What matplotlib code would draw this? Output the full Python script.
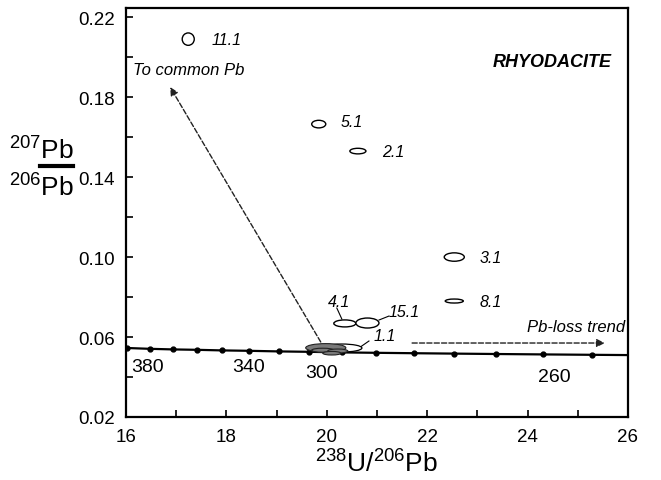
import numpy as np
import matplotlib
matplotlib.use('Agg')
import matplotlib.pyplot as plt
from matplotlib.patches import Ellipse
from matplotlib.lines import Line2D

plt.rcParams['font.family'] = ['Liberation Sans', 'DejaVu Sans']
plt.rcParams['mathtext.fontset'] = 'custom'
plt.rcParams['mathtext.rm'] = 'Liberation Sans'
plt.rcParams['mathtext.it'] = 'Liberation Sans:italic'

# Concordia curve (Tera-Wasserburg), age ticks in Ma
conc_age = [400, 390, 380, 370, 360, 350, 340, 330, 320, 310, 300, 290, 280, 270, 260, 250, 240]
conc_x = [15.62, 16.03, 16.47, 16.93, 17.41, 17.92, 18.46, 19.04, 19.65, 20.30,
          20.99, 21.73, 22.53, 23.38, 24.30, 25.29, 26.36]
conc_y = [0.0547, 0.0545, 0.0541, 0.0538, 0.0536, 0.0533, 0.0531, 0.0528, 0.0526,
          0.0523, 0.0521, 0.0519, 0.0517, 0.0515, 0.0513, 0.0511, 0.0509]

# age labels along the curve
age_lbl = ['380', '340', '300', '260']
age_lbl_x = [16.42, 18.44, 19.9, 24.54]
age_lbl_y = [0.0455, 0.0455, 0.0425, 0.0405]

# analysed spots (open ellipses)
spot_lbl = ['11.1', '5.1', '2.1', '3.1', '8.1', '4.1', '15.1', '1.1']
spot_x = [17.24, 19.84, 20.62, 22.54, 22.54, 20.36, 20.81, 20.30]
spot_y = [0.209, 0.1665, 0.153, 0.100, 0.078, 0.0668, 0.0670, 0.0545]
spot_w = [0.24, 0.28, 0.32, 0.40, 0.36, 0.44, 0.46, 0.80]
spot_h = [0.0062, 0.0038, 0.0028, 0.0042, 0.0020, 0.0035, 0.0050, 0.0040]
lbl_x = [17.70, 20.28, 21.10, 23.04, 23.04, 20.24, 21.54, 21.16]
lbl_y = [0.209, 0.168, 0.153, 0.100, 0.078, 0.078, 0.073, 0.061]

# concordant group (grey ellipses)
grey_x = [19.98, 19.92, 20.22, 20.10]
grey_y = [0.0546, 0.0534, 0.0530, 0.0519]
grey_w = [0.80, 0.44, 0.40, 0.36]
grey_h = [0.0042, 0.0020, 0.0020, 0.0018]

fig = plt.figure(figsize=(6.61, 4.81), dpi=100)
ax = fig.add_axes([0.1906, 0.131, 0.7594, 0.85])

ax.plot(conc_x, conc_y, color='black', lw=1.6, zorder=2)
ax.plot(conc_x[1:-1], conc_y[1:-1], 'o', color='black', ms=3.5, zorder=2)

for x, y, w, h in zip(spot_x[-1:], spot_y[-1:], spot_w[-1:], spot_h[-1:]):
    ax.add_patch(Ellipse((x, y), w, h, facecolor='white', edgecolor='black', lw=0.9, zorder=3))
for x, y, w, h in zip(grey_x, grey_y, grey_w, grey_h):
    ax.add_patch(Ellipse((x, y), w, h, facecolor='#7a7a7a', edgecolor='#222222', lw=0.8, zorder=4))
for x, y, w, h in zip(spot_x[:-1], spot_y[:-1], spot_w[:-1], spot_h[:-1]):
    ax.add_patch(Ellipse((x, y), w, h, facecolor='white', edgecolor='black', lw=1.0, zorder=3))

for s, x, y in zip(spot_lbl, lbl_x, lbl_y):
    ax.text(x, y, s, fontsize=11.5, style='italic', ha='left' if s not in ('4.1', '15.1', '1.1') else 'center',
            va='center', zorder=5)

# leader lines for the crowded labels
ax.plot([20.20, 20.30], [0.0745, 0.0690], color='black', lw=0.8)
ax.plot([21.04, 21.24], [0.0685, 0.0705], color='black', lw=0.8)
ax.plot([20.64, 20.84], [0.0545, 0.0580], color='black', lw=0.8)

for s, x, y in zip(age_lbl, age_lbl_x, age_lbl_y):
    ax.text(x, y, s, fontsize=14, ha='center', va='center')

# trend arrows
ax.annotate('', xy=(16.88, 0.185), xytext=(19.88, 0.0575),
            arrowprops=dict(arrowstyle='-|>', linestyle='--', color='#222222', lw=1.0,
                            mutation_scale=12, shrinkA=0, shrinkB=0))
ax.annotate('', xy=(25.54, 0.057), xytext=(21.70, 0.057),
            arrowprops=dict(arrowstyle='-|>', linestyle='--', color='#222222', lw=1.0,
                            mutation_scale=12, shrinkA=0, shrinkB=0))
ax.text(16.14, 0.194, 'To common Pb', fontsize=12, style='italic', ha='left', va='center')
ax.text(25.94, 0.0655, 'Pb-loss trend', fontsize=12, style='italic', ha='right', va='center')
ax.text(25.68, 0.198, 'RHYODACITE', fontsize=13, style='italic', weight='bold', ha='right', va='center')

ax.set_xlim(16, 26)
ax.set_ylim(0.02, 0.2245)
ax.set_xticks(np.arange(16, 27, 2))
ax.set_xticks(np.arange(17, 26, 2), minor=True)
ax.set_yticks(np.arange(0.02, 0.23, 0.04))
ax.set_yticks(np.arange(0.04, 0.22, 0.04), minor=True)
ax.yaxis.set_major_formatter(matplotlib.ticker.FormatStrFormatter('%.2f'))
ax.tick_params(which='both', direction='in', length=5, width=1.2, labelsize=13.5)
ax.tick_params(axis='x', pad=8)
ax.tick_params(axis='y', pad=8)
for sp in ax.spines.values():
    sp.set_linewidth(1.6)

ax.set_xlabel(r'$^{238}$U/$^{206}$Pb', fontsize=19, labelpad=3)

# y label drawn as a stacked ratio
fig.text(74 / 661, 1 - 151 / 481, r'$^{207}$Pb', fontsize=19, ha='right', va='center')
fig.text(74 / 661, 1 - 188 / 481, r'$^{206}$Pb', fontsize=19, ha='right', va='center')
fig.add_artist(Line2D([40 / 661, 73 / 661], [1 - 167 / 481, 1 - 167 / 481], color='black', lw=3))

fig.savefig('out.png', dpi=100)
